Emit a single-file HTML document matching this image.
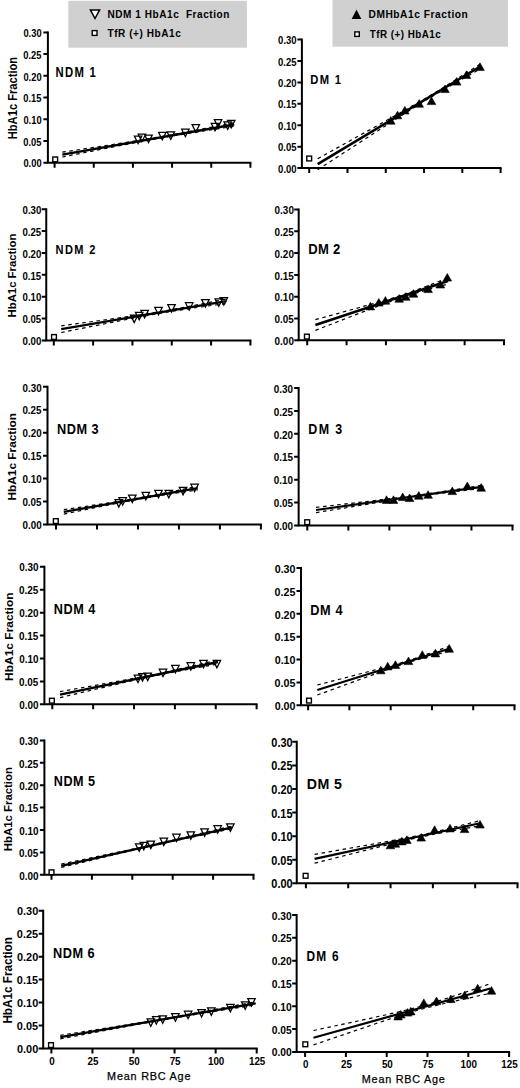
<!DOCTYPE html>
<html><head><meta charset="utf-8"><style>
html,body{margin:0;padding:0;background:#fff;}
svg{display:block;}
text{font-family:"Liberation Sans", sans-serif;fill:#000;}
</style></head><body>
<svg width="520" height="1088" viewBox="0 0 520 1088">
<rect width="520" height="1088" fill="#fff"/>

<rect x="68.3" y="0.8" width="178.6" height="46.9" fill="#d0d0d0"/>
<path d="M90.4 9.9H99.6L95 18.5Z" fill="#fff" stroke="#000" stroke-width="1.5"/>
<rect x="92.2" y="30.6" width="4.8" height="4.8" fill="#fff" stroke="#000" stroke-width="1.4"/>
<text x="107.5" y="17.5" font-size="11" font-weight="bold" letter-spacing="0.6" textLength="122.4" lengthAdjust="spacingAndGlyphs" xml:space="preserve">NDM 1 HbA1c  Fraction</text>
<text x="107.5" y="37.2" font-size="11" font-weight="bold" letter-spacing="0.6" textLength="73.8" lengthAdjust="spacingAndGlyphs">TfR (+) HbA1c</text>
<rect x="332.5" y="-1" width="175.5" height="47.7" fill="#d0d0d0"/>
<path d="M351.7 18.9H361.3L356.5 9.6Z" fill="#000"/>
<rect x="354.8" y="31.9" width="4.5" height="4.5" fill="#fff" stroke="#000" stroke-width="1.4"/>
<text x="368.5" y="17.5" font-size="11" font-weight="bold" letter-spacing="0.6" textLength="99.8" lengthAdjust="spacingAndGlyphs">DMHbA1c Fraction</text>
<text x="369.8" y="37.5" font-size="10.6" font-weight="bold" letter-spacing="0.5" textLength="71.4" lengthAdjust="spacingAndGlyphs">TfR (+) HbA1c</text>

<path d="M47.9 31.4V162.7H251.4" fill="none" stroke="#000" stroke-width="2"/>
<path d="M43.4 162.7H47.9M43.4 140.98H47.9M43.4 119.27H47.9M43.4 97.55H47.9M43.4 75.83H47.9M43.4 54.12H47.9M43.4 32.4H47.9M54.6 162.7V167.7M93.76 162.7V167.7M132.92 162.7V167.7M172.08 162.7V167.7M211.24 162.7V167.7M250.4 162.7V167.7" stroke="#000" stroke-width="2" fill="none"/>
<text x="23.43" y="167.4" font-size="11.17" textLength="18.15" lengthAdjust="spacingAndGlyphs" font-weight="bold">0.00</text>
<text x="23.31" y="145.68" font-size="11.17" textLength="18.15" lengthAdjust="spacingAndGlyphs" font-weight="bold">0.05</text>
<text x="23.43" y="123.97" font-size="11.17" textLength="18.15" lengthAdjust="spacingAndGlyphs" font-weight="bold">0.10</text>
<text x="23.31" y="102.25" font-size="11.17" textLength="18.15" lengthAdjust="spacingAndGlyphs" font-weight="bold">0.15</text>
<text x="23.43" y="80.53" font-size="11.17" textLength="18.15" lengthAdjust="spacingAndGlyphs" font-weight="bold">0.20</text>
<text x="23.31" y="58.82" font-size="11.17" textLength="18.15" lengthAdjust="spacingAndGlyphs" font-weight="bold">0.25</text>
<text x="23.43" y="37.1" font-size="11.17" textLength="18.15" lengthAdjust="spacingAndGlyphs" font-weight="bold">0.30</text>
<text x="55.54" y="76.7" font-size="13.81" letter-spacing="1.6" textLength="41.68" lengthAdjust="spacingAndGlyphs" font-weight="bold">NDM 1</text>
<g transform="rotate(-90)"><text x="-139.25" y="17" font-size="12.28" textLength="82.44" lengthAdjust="spacingAndGlyphs" font-weight="bold">HbA1c Fraction</text></g>
<path d="M134.35 136.1H141.85L138.1 143.6ZM138.15 134.2H145.65L141.9 141.7ZM144.75 135H152.25L148.5 142.5ZM158.55 132.3H166.05L162.3 139.8ZM167.05 131.9H174.55L170.8 139.4ZM181.65 129.2H189.15L185.4 136.7ZM192.05 124.6H199.55L195.8 132.1ZM211.25 123.4H218.75L215 130.9ZM214.35 119.6H221.85L218.1 127.1ZM223.95 121.9H231.45L227.7 129.4ZM227.45 120.3H234.95L231.2 127.8Z" fill="#fff" stroke="#000" stroke-width="1.25"/>
<path d="M62.3 152.2 L69.46 151.11 L76.62 150.01 L83.79 148.92 L90.95 147.82 L98.11 146.73 L105.27 145.63 L112.44 144.52 L119.6 143.41 L126.76 142.3 L133.92 141.17 L141.09 140.04 L148.25 138.87 L155.41 137.68 L162.57 136.44 L169.74 135.16 L176.9 133.84 L184.06 132.48 L191.22 131.11 L198.39 129.72 L205.55 128.33 L212.71 126.93 L219.87 125.52 L227.04 124.11 L234.2 122.7" fill="none" stroke="#000" stroke-width="1.2" stroke-dasharray="3.5 3.6"/>
<path d="M62.3 157 L69.46 155.58 L76.62 154.17 L83.79 152.75 L90.95 151.34 L98.11 149.93 L105.27 148.52 L112.44 147.12 L119.6 145.72 L126.76 144.33 L133.92 142.94 L141.09 141.57 L148.25 140.23 L155.41 138.91 L162.57 137.64 L169.74 136.42 L176.9 135.23 L184.06 134.08 L191.22 132.94 L198.39 131.82 L205.55 130.71 L212.71 129.6 L219.87 128.5 L227.04 127.4 L234.2 126.3" fill="none" stroke="#000" stroke-width="1.2" stroke-dasharray="3.5 3.6"/>
<path d="M62.3 154.6L234.2 124.5" stroke="#000" stroke-width="2.3" fill="none"/>
<rect x="52.8" y="157" width="4.8" height="4.8" fill="#fff" stroke="#000" stroke-width="1.4"/>
<path d="M46.25 208.2V340.5H251.4" fill="none" stroke="#000" stroke-width="2"/>
<path d="M41.75 340.5H46.25M41.75 318.62H46.25M41.75 296.73H46.25M41.75 274.85H46.25M41.75 252.97H46.25M41.75 231.08H46.25M41.75 209.2H46.25M53.8 340.5V345.5M93.12 340.5V345.5M132.44 340.5V345.5M171.76 340.5V345.5M211.08 340.5V345.5M250.4 340.5V345.5" stroke="#000" stroke-width="2" fill="none"/>
<text x="22.52" y="345.2" font-size="11.17" textLength="18.78" lengthAdjust="spacingAndGlyphs" font-weight="bold">0.00</text>
<text x="22.39" y="323.32" font-size="11.17" textLength="18.78" lengthAdjust="spacingAndGlyphs" font-weight="bold">0.05</text>
<text x="22.52" y="301.43" font-size="11.17" textLength="18.78" lengthAdjust="spacingAndGlyphs" font-weight="bold">0.10</text>
<text x="22.39" y="279.55" font-size="11.17" textLength="18.78" lengthAdjust="spacingAndGlyphs" font-weight="bold">0.15</text>
<text x="22.52" y="257.67" font-size="11.17" textLength="18.78" lengthAdjust="spacingAndGlyphs" font-weight="bold">0.20</text>
<text x="22.39" y="235.78" font-size="11.17" textLength="18.78" lengthAdjust="spacingAndGlyphs" font-weight="bold">0.25</text>
<text x="22.52" y="213.9" font-size="11.17" textLength="18.78" lengthAdjust="spacingAndGlyphs" font-weight="bold">0.30</text>
<text x="55.56" y="254.2" font-size="12.89" letter-spacing="1.6" textLength="41.25" lengthAdjust="spacingAndGlyphs" font-weight="bold">NDM 2</text>
<g transform="rotate(-90)"><text x="-317.46" y="15.6" font-size="10.76" textLength="83.76" lengthAdjust="spacingAndGlyphs" font-weight="bold">HbA1c Fraction</text></g>
<path d="M130.45 315H137.95L134.2 322.5ZM135.45 312.3H142.95L139.2 319.8ZM140.85 310.3H148.35L144.6 317.8ZM154.75 307.3H162.25L158.5 314.8ZM167.75 304.6H175.25L171.5 312.1ZM185.45 302.7H192.95L189.2 310.2ZM201.65 299.6H209.15L205.4 307.1ZM215.05 298.8H222.55L218.8 306.3ZM220.05 297.7H227.55L223.8 305.2Z" fill="#fff" stroke="#000" stroke-width="1.25"/>
<path d="M61.2 325.9 L68.09 324.95 L74.98 323.99 L81.86 323.03 L88.75 322.07 L95.64 321.11 L102.53 320.15 L109.41 319.18 L116.3 318.21 L123.19 317.23 L130.07 316.24 L136.96 315.24 L143.85 314.21 L150.74 313.16 L157.62 312.05 L164.51 310.9 L171.4 309.68 L178.29 308.41 L185.18 307.11 L192.06 305.79 L198.95 304.45 L205.84 303.09 L212.73 301.73 L219.61 300.37 L226.5 299" fill="none" stroke="#000" stroke-width="1.2" stroke-dasharray="3.5 3.6"/>
<path d="M61.2 332.5 L68.09 331.12 L74.98 329.74 L81.86 328.37 L88.75 326.99 L95.64 325.62 L102.53 324.25 L109.41 322.89 L116.3 321.52 L123.19 320.17 L130.07 318.82 L136.96 317.49 L143.85 316.19 L150.74 314.91 L157.62 313.68 L164.51 312.5 L171.4 311.39 L178.29 310.32 L185.18 309.29 L192.06 308.28 L198.95 307.29 L205.84 306.31 L212.73 305.33 L219.61 304.36 L226.5 303.4" fill="none" stroke="#000" stroke-width="1.2" stroke-dasharray="3.5 3.6"/>
<path d="M61.2 329.2L226.5 301.2" stroke="#000" stroke-width="2.3" fill="none"/>
<rect x="51.6" y="334.6" width="4.8" height="4.8" fill="#fff" stroke="#000" stroke-width="1.4"/>
<path d="M47.5 385.8V524.5H261.9" fill="none" stroke="#000" stroke-width="2"/>
<path d="M43 524.5H47.5M43 501.55H47.5M43 478.6H47.5M43 455.65H47.5M43 432.7H47.5M43 409.75H47.5M43 386.8H47.5M56 524.5V529.5M96.98 524.5V529.5M137.96 524.5V529.5M178.94 524.5V529.5M219.92 524.5V529.5M260.9 524.5V529.5" stroke="#000" stroke-width="2" fill="none"/>
<text x="22.51" y="529.2" font-size="11.17" textLength="19.09" lengthAdjust="spacingAndGlyphs" font-weight="bold">0.00</text>
<text x="22.38" y="506.25" font-size="11.17" textLength="19.09" lengthAdjust="spacingAndGlyphs" font-weight="bold">0.05</text>
<text x="22.51" y="483.3" font-size="11.17" textLength="19.09" lengthAdjust="spacingAndGlyphs" font-weight="bold">0.10</text>
<text x="22.38" y="460.35" font-size="11.17" textLength="19.09" lengthAdjust="spacingAndGlyphs" font-weight="bold">0.15</text>
<text x="22.51" y="437.4" font-size="11.17" textLength="19.09" lengthAdjust="spacingAndGlyphs" font-weight="bold">0.20</text>
<text x="22.38" y="414.45" font-size="11.17" textLength="19.09" lengthAdjust="spacingAndGlyphs" font-weight="bold">0.25</text>
<text x="22.51" y="391.5" font-size="11.17" textLength="19.09" lengthAdjust="spacingAndGlyphs" font-weight="bold">0.30</text>
<text x="56.95" y="434" font-size="14.32" letter-spacing="0.6" textLength="42.24" lengthAdjust="spacingAndGlyphs" font-weight="bold">NDM 3</text>
<g transform="rotate(-90)"><text x="-500.49" y="15.6" font-size="11.32" textLength="87.53" lengthAdjust="spacingAndGlyphs" font-weight="bold">HbA1c Fraction</text></g>
<path d="M115.05 499.6H122.55L118.8 507.1ZM118.95 497.7H126.45L122.7 505.2ZM128.55 495H136.05L132.3 502.5ZM142.05 492.3H149.55L145.8 499.8ZM154.75 490.3H162.25L158.5 497.8ZM165.05 490.3H172.55L168.8 497.8ZM179.35 487.3H186.85L183.1 494.8ZM190.85 484.2H198.35L194.6 491.7Z" fill="#fff" stroke="#000" stroke-width="1.25"/>
<path d="M63.8 509.7 L69.38 508.86 L74.96 508.02 L80.54 507.18 L86.12 506.34 L91.7 505.49 L97.27 504.64 L102.85 503.79 L108.43 502.93 L114.01 502.06 L119.59 501.18 L125.17 500.29 L130.75 499.36 L136.33 498.41 L141.91 497.41 L147.49 496.37 L153.07 495.3 L158.65 494.2 L164.22 493.09 L169.8 491.97 L175.38 490.85 L180.96 489.72 L186.54 488.58 L192.12 487.44 L197.7 486.3" fill="none" stroke="#000" stroke-width="1.2" stroke-dasharray="3.5 3.6"/>
<path d="M63.8 514.1 L69.38 512.96 L74.96 511.81 L80.54 510.67 L86.12 509.53 L91.7 508.39 L97.27 507.26 L102.85 506.13 L108.43 505 L114.01 503.89 L119.59 502.78 L125.17 501.7 L130.75 500.64 L136.33 499.61 L141.91 498.63 L147.49 497.68 L153.07 496.77 L158.65 495.88 L164.22 495.01 L169.8 494.14 L175.38 493.29 L180.96 492.43 L186.54 491.59 L192.12 490.74 L197.7 489.9" fill="none" stroke="#000" stroke-width="1.2" stroke-dasharray="3.5 3.6"/>
<path d="M63.8 511.9L197.7 488.1" stroke="#000" stroke-width="2.3" fill="none"/>
<rect x="53.4" y="518.7" width="4.8" height="4.8" fill="#fff" stroke="#000" stroke-width="1.4"/>
<path d="M44.4 565.8V704.35H257.6" fill="none" stroke="#000" stroke-width="2"/>
<path d="M39.9 704.35H44.4M39.9 681.42H44.4M39.9 658.5H44.4M39.9 635.58H44.4M39.9 612.65H44.4M39.9 589.72H44.4M39.9 566.8H44.4M52.3 704.35V709.35M93.16 704.35V709.35M134.02 704.35V709.35M174.88 704.35V709.35M215.74 704.35V709.35M256.6 704.35V709.35" stroke="#000" stroke-width="2" fill="none"/>
<text x="19.21" y="708.85" font-size="10.6" textLength="19.3" lengthAdjust="spacingAndGlyphs" font-weight="bold">0.00</text>
<text x="19.08" y="685.92" font-size="10.6" textLength="19.3" lengthAdjust="spacingAndGlyphs" font-weight="bold">0.05</text>
<text x="19.21" y="663" font-size="10.6" textLength="19.3" lengthAdjust="spacingAndGlyphs" font-weight="bold">0.10</text>
<text x="19.08" y="640.08" font-size="10.6" textLength="19.3" lengthAdjust="spacingAndGlyphs" font-weight="bold">0.15</text>
<text x="19.21" y="617.15" font-size="10.6" textLength="19.3" lengthAdjust="spacingAndGlyphs" font-weight="bold">0.20</text>
<text x="19.08" y="594.22" font-size="10.6" textLength="19.3" lengthAdjust="spacingAndGlyphs" font-weight="bold">0.25</text>
<text x="19.21" y="571.3" font-size="10.6" textLength="19.3" lengthAdjust="spacingAndGlyphs" font-weight="bold">0.30</text>
<text x="53.85" y="613.9" font-size="15.12" letter-spacing="0.6" textLength="42.02" lengthAdjust="spacingAndGlyphs" font-weight="bold">NDM 4</text>
<g transform="rotate(-90)"><text x="-680.9" y="12.5" font-size="11.32" textLength="88.44" lengthAdjust="spacingAndGlyphs" font-weight="bold">HbA1c Fraction</text></g>
<path d="M134.25 675H141.75L138 682.5ZM138.75 673.5H146.25L142.5 681ZM143.95 673H151.45L147.7 680.5ZM159.25 669.2H166.75L163 676.7ZM171.65 665.3H179.15L175.4 672.8ZM187.05 662.7H194.55L190.8 670.2ZM199.75 660.3H207.25L203.5 667.8ZM213.15 660.3H220.65L216.9 667.8Z" fill="#fff" stroke="#000" stroke-width="1.25"/>
<path d="M60 691.6 L66.58 690.44 L73.17 689.27 L79.75 688.1 L86.33 686.94 L92.92 685.77 L99.5 684.59 L106.08 683.42 L112.67 682.24 L119.25 681.05 L125.83 679.86 L132.42 678.65 L139 677.43 L145.58 676.17 L152.17 674.87 L158.75 673.52 L165.33 672.11 L171.92 670.66 L178.5 669.18 L185.08 667.67 L191.67 666.15 L198.25 664.62 L204.83 663.08 L211.42 661.54 L218 660" fill="none" stroke="#000" stroke-width="1.2" stroke-dasharray="3.5 3.6"/>
<path d="M60 697.6 L66.58 696.05 L73.17 694.5 L79.75 692.95 L86.33 691.4 L92.92 689.85 L99.5 688.31 L106.08 686.77 L112.67 685.23 L119.25 683.7 L125.83 682.17 L132.42 680.66 L139 679.17 L145.58 677.71 L152.17 676.29 L158.75 674.93 L165.33 673.62 L171.92 672.35 L178.5 671.12 L185.08 669.91 L191.67 668.72 L198.25 667.53 L204.83 666.35 L211.42 665.17 L218 664" fill="none" stroke="#000" stroke-width="1.2" stroke-dasharray="3.5 3.6"/>
<path d="M60 694.6L218 662" stroke="#000" stroke-width="2.3" fill="none"/>
<rect x="49.5" y="698.3" width="4.8" height="4.8" fill="#fff" stroke="#000" stroke-width="1.4"/>
<path d="M44.4 739.4V874.8H254.5" fill="none" stroke="#000" stroke-width="2"/>
<path d="M39.9 874.8H44.4M39.9 852.4H44.4M39.9 830H44.4M39.9 807.6H44.4M39.9 785.2H44.4M39.9 762.8H44.4M39.9 740.4H44.4M51.5 874.8V879.8M91.9 874.8V879.8M132.3 874.8V879.8M172.7 874.8V879.8M213.1 874.8V879.8M253.5 874.8V879.8" stroke="#000" stroke-width="2" fill="none"/>
<text x="19.21" y="879.5" font-size="11.17" textLength="19.3" lengthAdjust="spacingAndGlyphs" font-weight="bold">0.00</text>
<text x="19.08" y="857.1" font-size="11.17" textLength="19.3" lengthAdjust="spacingAndGlyphs" font-weight="bold">0.05</text>
<text x="19.21" y="834.7" font-size="11.17" textLength="19.3" lengthAdjust="spacingAndGlyphs" font-weight="bold">0.10</text>
<text x="19.08" y="812.3" font-size="11.17" textLength="19.3" lengthAdjust="spacingAndGlyphs" font-weight="bold">0.15</text>
<text x="19.21" y="789.9" font-size="11.17" textLength="19.3" lengthAdjust="spacingAndGlyphs" font-weight="bold">0.20</text>
<text x="19.08" y="767.5" font-size="11.17" textLength="19.3" lengthAdjust="spacingAndGlyphs" font-weight="bold">0.25</text>
<text x="19.21" y="745.1" font-size="11.17" textLength="19.3" lengthAdjust="spacingAndGlyphs" font-weight="bold">0.30</text>
<text x="53.86" y="786.2" font-size="15.12" letter-spacing="0.6" textLength="41.69" lengthAdjust="spacingAndGlyphs" font-weight="bold">NDM 5</text>
<g transform="rotate(-90)"><text x="-851.26" y="12.4" font-size="11.45" textLength="84.17" lengthAdjust="spacingAndGlyphs" font-weight="bold">HbA1c Fraction</text></g>
<path d="M135.45 843.8H142.95L139.2 851.3ZM140.05 842.3H147.55L143.8 849.8ZM147.05 841.1H154.55L150.8 848.6ZM160.05 838H167.55L163.8 845.5ZM172.75 834.2H180.25L176.5 841.7ZM187.05 831.9H194.55L190.8 839.4ZM200.85 828.8H208.35L204.6 836.3ZM213.95 825.7H221.45L217.7 833.2ZM226.65 823.8H234.15L230.4 831.3Z" fill="#fff" stroke="#000" stroke-width="1.25"/>
<path d="M61.2 864.1 L68.33 862.61 L75.46 861.12 L82.59 859.63 L89.72 858.14 L96.85 856.65 L103.98 855.15 L111.1 853.65 L118.23 852.15 L125.36 850.64 L132.49 849.12 L139.62 847.58 L146.75 846.03 L153.88 844.44 L161.01 842.83 L168.14 841.2 L175.27 839.53 L182.4 837.85 L189.53 836.16 L196.65 834.46 L203.78 832.76 L210.91 831.05 L218.04 829.33 L225.17 827.62 L232.3 825.9" fill="none" stroke="#000" stroke-width="1.2" stroke-dasharray="3.5 3.6"/>
<path d="M61.2 867.5 L68.33 865.78 L75.46 864.06 L82.59 862.34 L89.72 860.62 L96.85 858.91 L103.98 857.2 L111.1 855.49 L118.23 853.78 L125.36 852.09 L132.49 850.4 L139.62 848.73 L146.75 847.07 L153.88 845.45 L161.01 843.85 L168.14 842.28 L175.27 840.73 L182.4 839.2 L189.53 837.69 L196.65 836.18 L203.78 834.68 L210.91 833.18 L218.04 831.68 L225.17 830.19 L232.3 828.7" fill="none" stroke="#000" stroke-width="1.2" stroke-dasharray="3.5 3.6"/>
<path d="M61.2 865.8L232.3 827.3" stroke="#000" stroke-width="2.3" fill="none"/>
<rect x="49.1" y="869.9" width="4.8" height="4.8" fill="#fff" stroke="#000" stroke-width="1.4"/>
<path d="M43.2 909.8V1048.4H257.7" fill="none" stroke="#000" stroke-width="2"/>
<path d="M38.7 1048.4H43.2M38.7 1025.47H43.2M38.7 1002.53H43.2M38.7 979.6H43.2M38.7 956.67H43.2M38.7 933.73H43.2M38.7 910.8H43.2M51.4 1048.4V1053.4M92.46 1048.4V1053.4M133.52 1048.4V1053.4M174.58 1048.4V1053.4M215.64 1048.4V1053.4M256.7 1048.4V1053.4" stroke="#000" stroke-width="2" fill="none"/>
<text x="16.97" y="1052.9" font-size="10.6" textLength="21.28" lengthAdjust="spacingAndGlyphs" font-weight="bold">0.00</text>
<text x="16.82" y="1029.97" font-size="10.6" textLength="21.28" lengthAdjust="spacingAndGlyphs" font-weight="bold">0.05</text>
<text x="16.97" y="1007.03" font-size="10.6" textLength="21.28" lengthAdjust="spacingAndGlyphs" font-weight="bold">0.10</text>
<text x="16.82" y="984.1" font-size="10.6" textLength="21.28" lengthAdjust="spacingAndGlyphs" font-weight="bold">0.15</text>
<text x="16.97" y="961.17" font-size="10.6" textLength="21.28" lengthAdjust="spacingAndGlyphs" font-weight="bold">0.20</text>
<text x="16.82" y="938.23" font-size="10.6" textLength="21.28" lengthAdjust="spacingAndGlyphs" font-weight="bold">0.25</text>
<text x="16.97" y="915.3" font-size="10.6" textLength="21.28" lengthAdjust="spacingAndGlyphs" font-weight="bold">0.30</text>
<text x="49.28" y="1064.6" font-size="10.03" textLength="5.46" lengthAdjust="spacingAndGlyphs" font-weight="bold">0</text>
<text x="87.56" y="1064.6" font-size="10.03" textLength="10.93" lengthAdjust="spacingAndGlyphs" font-weight="bold">25</text>
<text x="128.71" y="1064.6" font-size="10.03" textLength="10.93" lengthAdjust="spacingAndGlyphs" font-weight="bold">50</text>
<text x="169.64" y="1064.6" font-size="10.03" textLength="10.93" lengthAdjust="spacingAndGlyphs" font-weight="bold">75</text>
<text x="207.94" y="1064.6" font-size="10.03" textLength="16.39" lengthAdjust="spacingAndGlyphs" font-weight="bold">100</text>
<text x="248.93" y="1064.6" font-size="10.03" textLength="16.39" lengthAdjust="spacingAndGlyphs" font-weight="bold">125</text>
<text x="52.95" y="957.9" font-size="14.89" letter-spacing="0.6" textLength="42.23" lengthAdjust="spacingAndGlyphs" font-weight="bold">NDM 6</text>
<g transform="rotate(-90)"><text x="-1023.58" y="11.8" font-size="11.87" textLength="86.51" lengthAdjust="spacingAndGlyphs" font-weight="bold">HbA1c Fraction</text></g>
<path d="M147.05 1018.8H154.55L150.8 1026.3ZM152.55 1016.7H160.05L156.3 1024.2ZM158.95 1015.8H166.45L162.7 1023.3ZM171.65 1013.7H179.15L175.4 1021.2ZM184.35 1011.2H191.85L188.1 1018.7ZM197.85 1009.5H205.35L201.6 1017ZM207.55 1007.8H215.05L211.3 1015.3ZM226.65 1004.4H234.15L230.4 1011.9ZM241.45 1001.9H248.95L245.2 1009.4ZM247.75 998.5H255.25L251.5 1006Z" fill="#fff" stroke="#000" stroke-width="1.25"/>
<path d="M60.3 1035.3 L68.44 1034.02 L76.58 1032.74 L84.72 1031.46 L92.87 1030.18 L101.01 1028.89 L109.15 1027.61 L117.29 1026.31 L125.43 1025.02 L133.57 1023.71 L141.72 1022.39 L149.86 1021.05 L158 1019.69 L166.14 1018.29 L174.28 1016.86 L182.42 1015.39 L190.57 1013.9 L198.71 1012.4 L206.85 1010.88 L214.99 1009.36 L223.13 1007.83 L231.27 1006.3 L239.42 1004.77 L247.56 1003.24 L255.7 1001.7" fill="none" stroke="#000" stroke-width="1.2" stroke-dasharray="3.5 3.6"/>
<path d="M60.3 1038.9 L68.44 1037.36 L76.58 1035.83 L84.72 1034.29 L92.87 1032.76 L101.01 1031.22 L109.15 1029.69 L117.29 1028.17 L125.43 1026.65 L133.57 1025.14 L141.72 1023.64 L149.86 1022.16 L158 1020.71 L166.14 1019.29 L174.28 1017.91 L182.42 1016.56 L190.57 1015.23 L198.71 1013.92 L206.85 1012.62 L214.99 1011.32 L223.13 1010.03 L231.27 1008.75 L239.42 1007.46 L247.56 1006.18 L255.7 1004.9" fill="none" stroke="#000" stroke-width="1.2" stroke-dasharray="3.5 3.6"/>
<path d="M60.3 1037.1L255.7 1003.3" stroke="#000" stroke-width="2.3" fill="none"/>
<rect x="48.6" y="1042.7" width="4.8" height="4.8" fill="#fff" stroke="#000" stroke-width="1.4"/>
<path d="M301.9 38.6V168.1H501.6" fill="none" stroke="#000" stroke-width="2"/>
<path d="M297.4 168.1H301.9M297.4 146.68H301.9M297.4 125.27H301.9M297.4 103.85H301.9M297.4 82.43H301.9M297.4 61.02H301.9M297.4 39.6H301.9M309.2 168.1V173.1M347.48 168.1V173.1M385.76 168.1V173.1M424.04 168.1V173.1M462.32 168.1V173.1M500.6 168.1V173.1" stroke="#000" stroke-width="2" fill="none"/>
<text x="278.12" y="172.6" font-size="10.6" textLength="18.46" lengthAdjust="spacingAndGlyphs" font-weight="bold">0.00</text>
<text x="278" y="151.18" font-size="10.6" textLength="18.46" lengthAdjust="spacingAndGlyphs" font-weight="bold">0.05</text>
<text x="278.12" y="129.77" font-size="10.6" textLength="18.46" lengthAdjust="spacingAndGlyphs" font-weight="bold">0.10</text>
<text x="278" y="108.35" font-size="10.6" textLength="18.46" lengthAdjust="spacingAndGlyphs" font-weight="bold">0.15</text>
<text x="278.12" y="86.93" font-size="10.6" textLength="18.46" lengthAdjust="spacingAndGlyphs" font-weight="bold">0.20</text>
<text x="278" y="65.52" font-size="10.6" textLength="18.46" lengthAdjust="spacingAndGlyphs" font-weight="bold">0.25</text>
<text x="278.12" y="44.1" font-size="10.6" textLength="18.46" lengthAdjust="spacingAndGlyphs" font-weight="bold">0.30</text>
<text x="310.25" y="83.9" font-size="13.37" letter-spacing="1.6" textLength="32.1" lengthAdjust="spacingAndGlyphs" font-weight="bold">DM 1</text>
<path d="M317.7 158.7 L324.5 154.92 L331.31 151.15 L338.11 147.37 L344.92 143.59 L351.72 139.81 L358.52 136.03 L365.33 132.24 L372.13 128.45 L378.94 124.66 L385.74 120.87 L392.55 117.06 L399.35 113.25 L406.15 109.42 L412.96 105.56 L419.76 101.66 L426.57 97.7 L433.37 93.64 L440.18 89.48 L446.98 85.24 L453.78 80.95 L460.59 76.61 L467.39 72.25 L474.2 67.88 L481 63.5" fill="none" stroke="#000" stroke-width="1.2" stroke-dasharray="3.5 3.6"/>
<path d="M317.7 169.7 L324.5 165.29 L331.31 160.89 L338.11 156.48 L344.92 152.08 L351.72 147.68 L358.52 143.27 L365.33 138.88 L372.13 134.48 L378.94 130.09 L385.74 125.7 L392.55 121.32 L399.35 116.95 L406.15 112.6 L412.96 108.27 L419.76 103.99 L426.57 99.77 L433.37 95.64 L440.18 91.62 L446.98 87.67 L453.78 83.79 L460.59 79.94 L467.39 76.11 L474.2 72.3 L481 68.5" fill="none" stroke="#000" stroke-width="1.2" stroke-dasharray="3.5 3.6"/>
<path d="M317.7 164.2L481 66" stroke="#000" stroke-width="2.6" fill="none"/>
<path d="M386.5 124.2H395.1L390.8 116.6ZM393.2 118.8H401.8L397.5 111.2ZM400.5 114H409.1L404.8 106.4ZM414.9 107.2H423.5L419.2 99.6ZM427.2 104.6H435.8L431.5 97ZM440.7 92.6H449.3L445 85ZM452.4 85.1H461L456.7 77.5ZM462.2 78.4H470.8L466.5 70.8ZM475.7 70.4H484.3L480 62.8Z" fill="#000" stroke="#000" stroke-width="0.6"/>
<rect x="306.8" y="156.1" width="4.8" height="4.8" fill="#fff" stroke="#000" stroke-width="1.4"/>
<path d="M298.7 208.4V340.35H505" fill="none" stroke="#000" stroke-width="2"/>
<path d="M294.2 340.35H298.7M294.2 318.53H298.7M294.2 296.7H298.7M294.2 274.88H298.7M294.2 253.05H298.7M294.2 231.23H298.7M294.2 209.4H298.7M307.2 340.35V345.35M346.56 340.35V345.35M385.92 340.35V345.35M425.28 340.35V345.35M464.64 340.35V345.35M504 340.35V345.35" stroke="#000" stroke-width="2" fill="none"/>
<text x="274.61" y="345.1" font-size="11.31" textLength="19.3" lengthAdjust="spacingAndGlyphs" font-weight="bold">0.00</text>
<text x="274.48" y="323.28" font-size="11.31" textLength="19.3" lengthAdjust="spacingAndGlyphs" font-weight="bold">0.05</text>
<text x="274.61" y="301.45" font-size="11.31" textLength="19.3" lengthAdjust="spacingAndGlyphs" font-weight="bold">0.10</text>
<text x="274.48" y="279.62" font-size="11.31" textLength="19.3" lengthAdjust="spacingAndGlyphs" font-weight="bold">0.15</text>
<text x="274.61" y="257.8" font-size="11.31" textLength="19.3" lengthAdjust="spacingAndGlyphs" font-weight="bold">0.20</text>
<text x="274.48" y="235.98" font-size="11.31" textLength="19.3" lengthAdjust="spacingAndGlyphs" font-weight="bold">0.25</text>
<text x="274.61" y="214.15" font-size="11.31" textLength="19.3" lengthAdjust="spacingAndGlyphs" font-weight="bold">0.30</text>
<text x="308.33" y="254.2" font-size="14.18" letter-spacing="0.3" textLength="32.27" lengthAdjust="spacingAndGlyphs" font-weight="bold">DM 2</text>
<path d="M315.4 319.6 L320.92 318.09 L326.45 316.58 L331.97 315.07 L337.5 313.56 L343.02 312.04 L348.55 310.52 L354.07 309 L359.6 307.48 L365.12 305.94 L370.65 304.4 L376.18 302.84 L381.7 301.26 L387.22 299.65 L392.75 298 L398.27 296.27 L403.8 294.46 L409.32 292.56 L414.85 290.59 L420.38 288.55 L425.9 286.48 L431.43 284.38 L436.95 282.26 L442.48 280.14 L448 278" fill="none" stroke="#000" stroke-width="1.2" stroke-dasharray="3.5 3.6"/>
<path d="M315.4 330.4 L320.92 328.24 L326.45 326.08 L331.97 323.93 L337.5 321.78 L343.02 319.62 L348.55 317.48 L354.07 315.33 L359.6 313.19 L365.12 311.06 L370.65 308.94 L376.18 306.83 L381.7 304.74 L387.22 302.68 L392.75 300.67 L398.27 298.73 L403.8 296.87 L409.32 295.1 L414.85 293.41 L420.38 291.78 L425.9 290.19 L431.43 288.62 L436.95 287.07 L442.48 285.53 L448 284" fill="none" stroke="#000" stroke-width="1.2" stroke-dasharray="3.5 3.6"/>
<path d="M315.4 325L448 281" stroke="#000" stroke-width="2.6" fill="none"/>
<path d="M366.1 309.9H374.7L370.4 302.3ZM374.5 306.1H383.1L378.8 298.5ZM381.1 304.2H389.7L385.4 296.6ZM394.9 302.2H403.5L399.2 294.6ZM401.5 300.3H410.1L405.8 292.7ZM409.2 297.2H417.8L413.5 289.6ZM423.8 292.6H432.4L428.1 285ZM436.1 288H444.7L440.4 280.4ZM443 281.1H451.6L447.3 273.5Z" fill="#000" stroke="#000" stroke-width="0.6"/>
<rect x="304.5" y="334.2" width="4.8" height="4.8" fill="#fff" stroke="#000" stroke-width="1.4"/>
<path d="M298.65 387V525.5H513.5" fill="none" stroke="#000" stroke-width="2"/>
<path d="M294.15 525.5H298.65M294.15 502.58H298.65M294.15 479.67H298.65M294.15 456.75H298.65M294.15 433.83H298.65M294.15 410.92H298.65M294.15 388H298.65M307.3 525.5V530.5M348.34 525.5V530.5M389.38 525.5V530.5M430.42 525.5V530.5M471.46 525.5V530.5M512.5 525.5V530.5" stroke="#000" stroke-width="2" fill="none"/>
<text x="273.81" y="530.2" font-size="11.17" textLength="19.3" lengthAdjust="spacingAndGlyphs" font-weight="bold">0.00</text>
<text x="273.68" y="507.28" font-size="11.17" textLength="19.3" lengthAdjust="spacingAndGlyphs" font-weight="bold">0.05</text>
<text x="273.81" y="484.37" font-size="11.17" textLength="19.3" lengthAdjust="spacingAndGlyphs" font-weight="bold">0.10</text>
<text x="273.68" y="461.45" font-size="11.17" textLength="19.3" lengthAdjust="spacingAndGlyphs" font-weight="bold">0.15</text>
<text x="273.81" y="438.53" font-size="11.17" textLength="19.3" lengthAdjust="spacingAndGlyphs" font-weight="bold">0.20</text>
<text x="273.68" y="415.62" font-size="11.17" textLength="19.3" lengthAdjust="spacingAndGlyphs" font-weight="bold">0.25</text>
<text x="273.81" y="392.7" font-size="11.17" textLength="19.3" lengthAdjust="spacingAndGlyphs" font-weight="bold">0.30</text>
<text x="308.37" y="433.9" font-size="14.46" letter-spacing="1.6" textLength="35.26" lengthAdjust="spacingAndGlyphs" font-weight="bold">DM 3</text>
<path d="M316 507.4 L322.98 506.59 L329.96 505.77 L336.94 504.96 L343.92 504.14 L350.9 503.33 L357.88 502.51 L364.85 501.69 L371.83 500.87 L378.81 500.04 L385.79 499.2 L392.77 498.36 L399.75 497.5 L406.73 496.63 L413.71 495.72 L420.69 494.77 L427.67 493.78 L434.65 492.75 L441.62 491.68 L448.6 490.59 L455.58 489.49 L462.56 488.37 L469.54 487.25 L476.52 486.13 L483.5 485" fill="none" stroke="#000" stroke-width="1.2" stroke-dasharray="3.5 3.6"/>
<path d="M316 512.6 L322.98 511.46 L329.96 510.33 L336.94 509.19 L343.92 508.06 L350.9 506.92 L357.88 505.79 L364.85 504.66 L371.83 503.53 L378.81 502.41 L385.79 501.3 L392.77 500.19 L399.75 499.1 L406.73 498.02 L413.71 496.98 L420.69 495.98 L427.67 495.02 L434.65 494.1 L441.62 493.22 L448.6 492.36 L455.58 491.51 L462.56 490.68 L469.54 489.85 L476.52 489.02 L483.5 488.2" fill="none" stroke="#000" stroke-width="1.2" stroke-dasharray="3.5 3.6"/>
<path d="M316 510L483.5 486.6" stroke="#000" stroke-width="2.2" fill="none"/>
<path d="M382.2 503.4H390.8L386.5 495.8ZM389.2 503.4H397.8L393.5 495.8ZM398.4 500.6H407L402.7 493ZM405.3 501.6H413.9L409.6 494ZM414.5 499.2H423.1L418.8 491.6ZM423.8 498.3H432.4L428.1 490.7ZM448 494.6H456.6L452.3 487ZM463 489.6H471.6L467.3 482ZM476.9 491.2H485.5L481.2 483.6Z" fill="#000" stroke="#000" stroke-width="0.6"/>
<rect x="304.8" y="519.8" width="4.8" height="4.8" fill="#fff" stroke="#000" stroke-width="1.4"/>
<path d="M301 567V705.3H515.5" fill="none" stroke="#000" stroke-width="2"/>
<path d="M296.5 705.3H301M296.5 682.42H301M296.5 659.53H301M296.5 636.65H301M296.5 613.77H301M296.5 590.88H301M296.5 568H301M308.1 705.3V710.3M349.38 705.3V710.3M390.66 705.3V710.3M431.94 705.3V710.3M473.22 705.3V710.3M514.5 705.3V710.3" stroke="#000" stroke-width="2" fill="none"/>
<text x="274.68" y="710.05" font-size="11.31" textLength="20.86" lengthAdjust="spacingAndGlyphs" font-weight="bold">0.00</text>
<text x="274.53" y="687.17" font-size="11.31" textLength="20.86" lengthAdjust="spacingAndGlyphs" font-weight="bold">0.05</text>
<text x="274.68" y="664.28" font-size="11.31" textLength="20.86" lengthAdjust="spacingAndGlyphs" font-weight="bold">0.10</text>
<text x="274.53" y="641.4" font-size="11.31" textLength="20.86" lengthAdjust="spacingAndGlyphs" font-weight="bold">0.15</text>
<text x="274.68" y="618.52" font-size="11.31" textLength="20.86" lengthAdjust="spacingAndGlyphs" font-weight="bold">0.20</text>
<text x="274.53" y="595.63" font-size="11.31" textLength="20.86" lengthAdjust="spacingAndGlyphs" font-weight="bold">0.25</text>
<text x="274.68" y="572.75" font-size="11.31" textLength="20.86" lengthAdjust="spacingAndGlyphs" font-weight="bold">0.30</text>
<text x="310.15" y="614.7" font-size="14.54" letter-spacing="0.8" textLength="33.22" lengthAdjust="spacingAndGlyphs" font-weight="bold">DM 4</text>
<path d="M317.3 685 L322.83 683.56 L328.36 682.13 L333.89 680.69 L339.42 679.25 L344.95 677.81 L350.48 676.37 L356 674.92 L361.53 673.47 L367.06 672.02 L372.59 670.56 L378.12 669.09 L383.65 667.61 L389.18 666.1 L394.71 664.57 L400.24 662.98 L405.77 661.33 L411.3 659.59 L416.82 657.76 L422.35 655.87 L427.88 653.94 L433.41 651.97 L438.94 649.99 L444.47 648 L450 646" fill="none" stroke="#000" stroke-width="1.2" stroke-dasharray="3.5 3.6"/>
<path d="M317.3 695 L322.83 692.98 L328.36 690.96 L333.89 688.94 L339.42 686.92 L344.95 684.9 L350.48 682.88 L356 680.87 L361.53 678.86 L367.06 676.86 L372.59 674.86 L378.12 672.87 L383.65 670.89 L389.18 668.94 L394.71 667.01 L400.24 665.14 L405.77 663.34 L411.3 661.62 L416.82 659.99 L422.35 658.42 L427.88 656.9 L433.41 655.4 L438.94 653.92 L444.47 652.46 L450 651" fill="none" stroke="#000" stroke-width="1.2" stroke-dasharray="3.5 3.6"/>
<path d="M317.3 690L450 648.5" stroke="#000" stroke-width="2.2" fill="none"/>
<path d="M376.5 673.8H385.1L380.8 666.2ZM383.4 669.9H392L387.7 662.3ZM391.1 668.4H399.7L395.4 660.8ZM404.2 664.6H412.8L408.5 657ZM418 658.4H426.6L422.3 650.8ZM431.1 656.9H439.7L435.4 649.3ZM444.9 652.2H453.5L449.2 644.6Z" fill="#000" stroke="#000" stroke-width="0.6"/>
<rect x="306.6" y="698.2" width="4.8" height="4.8" fill="#fff" stroke="#000" stroke-width="1.4"/>
<path d="M296.75 740.8V883.3H518.5" fill="none" stroke="#000" stroke-width="2"/>
<path d="M292.25 883.3H296.75M292.25 859.72H296.75M292.25 836.13H296.75M292.25 812.55H296.75M292.25 788.97H296.75M292.25 765.38H296.75M292.25 741.8H296.75M305.9 883.3V888.3M348.22 883.3V888.3M390.54 883.3V888.3M432.86 883.3V888.3M475.18 883.3V888.3M517.5 883.3V888.3" stroke="#000" stroke-width="2" fill="none"/>
<text x="271.37" y="888.3" font-size="12.03" textLength="21.28" lengthAdjust="spacingAndGlyphs" font-weight="bold">0.00</text>
<text x="271.22" y="864.72" font-size="12.03" textLength="21.28" lengthAdjust="spacingAndGlyphs" font-weight="bold">0.05</text>
<text x="271.37" y="841.13" font-size="12.03" textLength="21.28" lengthAdjust="spacingAndGlyphs" font-weight="bold">0.10</text>
<text x="271.22" y="817.55" font-size="12.03" textLength="21.28" lengthAdjust="spacingAndGlyphs" font-weight="bold">0.15</text>
<text x="271.37" y="793.97" font-size="12.03" textLength="21.28" lengthAdjust="spacingAndGlyphs" font-weight="bold">0.20</text>
<text x="271.22" y="770.38" font-size="12.03" textLength="21.28" lengthAdjust="spacingAndGlyphs" font-weight="bold">0.25</text>
<text x="271.37" y="746.8" font-size="12.03" textLength="21.28" lengthAdjust="spacingAndGlyphs" font-weight="bold">0.30</text>
<text x="306.85" y="789.4" font-size="14.83" letter-spacing="0.4" textLength="35.43" lengthAdjust="spacingAndGlyphs" font-weight="bold">DM 5</text>
<path d="M314.6 854.4 L321.44 853.2 L328.28 851.99 L335.12 850.78 L341.97 849.57 L348.81 848.36 L355.65 847.15 L362.49 845.93 L369.33 844.71 L376.18 843.49 L383.02 842.25 L389.86 841 L396.7 839.74 L403.54 838.45 L410.38 837.11 L417.23 835.72 L424.07 834.26 L430.91 832.73 L437.75 831.13 L444.59 829.49 L451.43 827.82 L458.27 826.14 L465.12 824.43 L471.96 822.72 L478.8 821" fill="none" stroke="#000" stroke-width="1.2" stroke-dasharray="3.5 3.6"/>
<path d="M314.6 863.2 L321.44 861.46 L328.28 859.73 L335.12 857.99 L341.97 856.26 L348.81 854.53 L355.65 852.8 L362.49 851.07 L369.33 849.35 L376.18 847.64 L383.02 845.93 L389.86 844.24 L396.7 842.56 L403.54 840.91 L410.38 839.3 L417.23 837.75 L424.07 836.27 L430.91 834.86 L437.75 833.52 L444.59 832.21 L451.43 830.94 L458.27 829.69 L465.12 828.45 L471.96 827.22 L478.8 826" fill="none" stroke="#000" stroke-width="1.2" stroke-dasharray="3.5 3.6"/>
<path d="M314.6 858.8L478.8 823.5" stroke="#000" stroke-width="2.2" fill="none"/>
<path d="M386.1 848.8H394.7L390.4 841.2ZM391.1 847.2H399.7L395.4 839.6ZM397.6 844.9H406.2L401.9 837.3ZM402.6 843.4H411.2L406.9 835.8ZM416.9 841.1H425.5L421.2 833.5ZM430.3 833.4H438.9L434.6 825.8ZM445.7 831.9H454.3L450 824.3ZM460.3 832.6H468.9L464.6 825ZM475.7 828H484.3L480 820.4Z" fill="#000" stroke="#000" stroke-width="0.6"/>
<rect x="303.2" y="873.4" width="4.8" height="4.8" fill="#fff" stroke="#000" stroke-width="1.4"/>
<path d="M296.65 914V1051.9H510.1" fill="none" stroke="#000" stroke-width="2"/>
<path d="M292.15 1051.9H296.65M292.15 1029.08H296.65M292.15 1006.27H296.65M292.15 983.45H296.65M292.15 960.63H296.65M292.15 937.82H296.65M292.15 915H296.65M305.1 1051.9V1056.9M345.9 1051.9V1056.9M386.7 1051.9V1056.9M427.5 1051.9V1056.9M468.3 1051.9V1056.9M509.1 1051.9V1056.9" stroke="#000" stroke-width="2" fill="none"/>
<text x="271.79" y="1056.4" font-size="10.6" textLength="20.03" lengthAdjust="spacingAndGlyphs" font-weight="bold">0.00</text>
<text x="271.66" y="1033.58" font-size="10.6" textLength="20.03" lengthAdjust="spacingAndGlyphs" font-weight="bold">0.05</text>
<text x="271.79" y="1010.77" font-size="10.6" textLength="20.03" lengthAdjust="spacingAndGlyphs" font-weight="bold">0.10</text>
<text x="271.66" y="987.95" font-size="10.6" textLength="20.03" lengthAdjust="spacingAndGlyphs" font-weight="bold">0.15</text>
<text x="271.79" y="965.13" font-size="10.6" textLength="20.03" lengthAdjust="spacingAndGlyphs" font-weight="bold">0.20</text>
<text x="271.66" y="942.32" font-size="10.6" textLength="20.03" lengthAdjust="spacingAndGlyphs" font-weight="bold">0.25</text>
<text x="271.79" y="919.5" font-size="10.6" textLength="20.03" lengthAdjust="spacingAndGlyphs" font-weight="bold">0.30</text>
<text x="302.98" y="1067.8" font-size="10.03" textLength="5.46" lengthAdjust="spacingAndGlyphs" font-weight="bold">0</text>
<text x="341" y="1067.8" font-size="10.03" textLength="10.93" lengthAdjust="spacingAndGlyphs" font-weight="bold">25</text>
<text x="381.89" y="1067.8" font-size="10.03" textLength="10.93" lengthAdjust="spacingAndGlyphs" font-weight="bold">50</text>
<text x="422.56" y="1067.8" font-size="10.03" textLength="10.93" lengthAdjust="spacingAndGlyphs" font-weight="bold">75</text>
<text x="460.6" y="1067.8" font-size="10.03" textLength="16.39" lengthAdjust="spacingAndGlyphs" font-weight="bold">100</text>
<text x="501.33" y="1067.8" font-size="10.03" textLength="16.39" lengthAdjust="spacingAndGlyphs" font-weight="bold">125</text>
<text x="306.41" y="960.7" font-size="14.32" letter-spacing="1.6" textLength="33.65" lengthAdjust="spacingAndGlyphs" font-weight="bold">DM 6</text>
<path d="M313.5 1030.5 L320.87 1028.92 L328.24 1027.34 L335.61 1025.76 L342.98 1024.18 L350.35 1022.59 L357.73 1021 L365.1 1019.4 L372.47 1017.79 L379.84 1016.17 L387.21 1014.53 L394.58 1012.86 L401.95 1011.15 L409.32 1009.37 L416.69 1007.48 L424.06 1005.44 L431.43 1003.25 L438.8 1000.94 L446.17 998.56 L453.55 996.13 L460.92 993.68 L468.29 991.2 L475.66 988.71 L483.03 986.21 L490.4 983.7" fill="none" stroke="#000" stroke-width="1.2" stroke-dasharray="3.5 3.6"/>
<path d="M313.5 1044.9 L320.87 1042.38 L328.24 1039.86 L335.61 1037.34 L342.98 1034.82 L350.35 1032.31 L357.73 1029.8 L365.1 1027.3 L372.47 1024.81 L379.84 1022.33 L387.21 1019.87 L394.58 1017.44 L401.95 1015.05 L409.32 1012.73 L416.69 1010.52 L424.06 1008.46 L431.43 1006.55 L438.8 1004.76 L446.17 1003.04 L453.55 1001.37 L460.92 999.72 L468.29 998.1 L475.66 996.49 L483.03 994.89 L490.4 993.3" fill="none" stroke="#000" stroke-width="1.2" stroke-dasharray="3.5 3.6"/>
<path d="M313.5 1037.7L490.4 988.5" stroke="#000" stroke-width="2.2" fill="none"/>
<path d="M393.8 1019.9H402.4L398.1 1012.3ZM396.5 1018H405.1L400.8 1010.4ZM403.4 1016.1H412L407.7 1008.5ZM406.5 1014.9H415.1L410.8 1007.3ZM419.5 1006.5H428.1L423.8 998.9ZM432.2 1004.6H440.8L436.5 997ZM446.5 1002.6H455.1L450.8 995ZM460.3 998.8H468.9L464.6 991.2ZM473.4 991.9H482L477.7 984.3ZM487.2 994.2H495.8L491.5 986.6Z" fill="#000" stroke="#000" stroke-width="0.6"/>
<rect x="302.9" y="1041.9" width="4.8" height="4.8" fill="#fff" stroke="#000" stroke-width="1.4"/>
<text x="107.12" y="1079.6" font-size="11.03" letter-spacing="0.8" textLength="84.14" lengthAdjust="spacingAndGlyphs" stroke="#000" stroke-width="0.25">Mean RBC Age</text>
<text x="361.82" y="1082.7" font-size="11.03" letter-spacing="0.8" textLength="83.83" lengthAdjust="spacingAndGlyphs" stroke="#000" stroke-width="0.25">Mean RBC Age</text>
</svg>
</body></html>
